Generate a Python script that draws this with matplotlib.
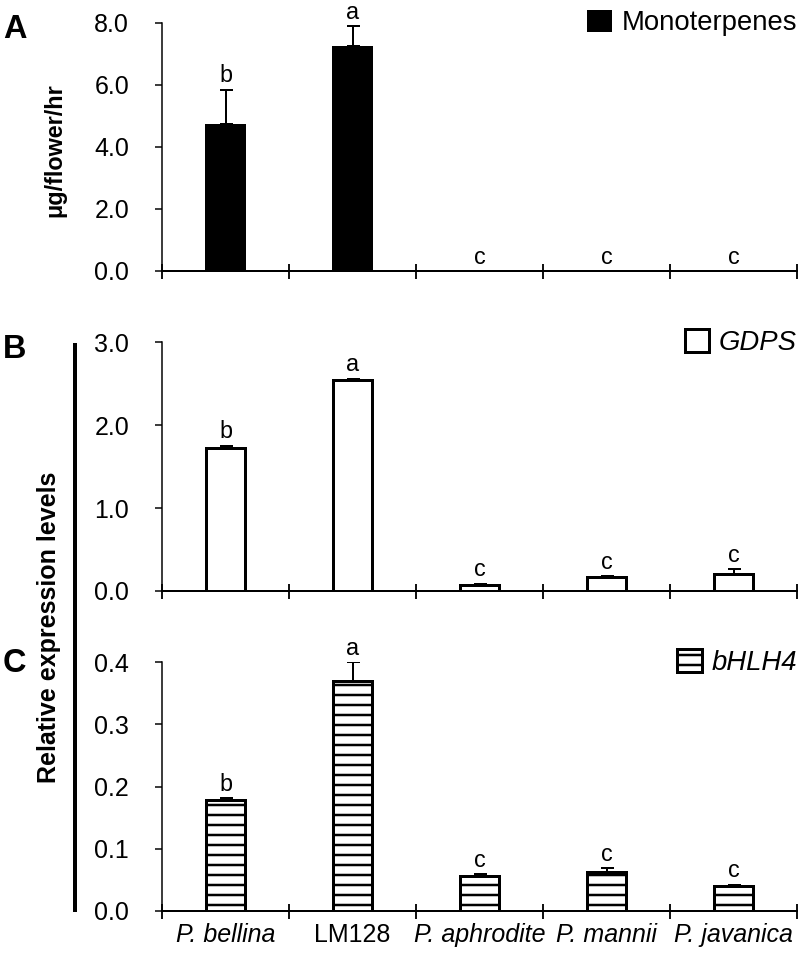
import numpy as np
import matplotlib
matplotlib.use('Agg')
import matplotlib.pyplot as plt
from matplotlib.lines import Line2D

plt.rcParams['font.family'] = ['Liberation Sans', 'DejaVu Sans']
plt.rcParams['hatch.linewidth'] = 3.0

species = ['P. bellina', 'LM128', 'P. aphrodite', 'P. mannii', 'P. javanica']
italic = [True, False, True, True, True]

# A: monoterpene emission (ug/flower/hr)
mono = [4.74, 7.26, 0.0, 0.0, 0.0]
mono_err = [1.10, 0.64, 0.0, 0.0, 0.0]
mono_sig = ['b', 'a', 'c', 'c', 'c']

# B: GDPS relative expression
gdps = [1.72, 2.545, 0.07, 0.165, 0.205]
gdps_err = [0.03, 0.015, 0.015, 0.012, 0.055]
gdps_sig = ['b', 'a', 'c', 'c', 'c']

# C: bHLH4 relative expression
bhlh = [0.179, 0.370, 0.057, 0.063, 0.040]
bhlh_err = [0.002, 0.030, 0.0025, 0.0055, 0.002]
bhlh_sig = ['b', 'a', 'c', 'c', 'c']

W, H, DPI = 800, 954, 60
fig = plt.figure(figsize=(W / DPI, H / DPI), dpi=DPI)


def px_axes(y_top, y_zero):
    left, right = 162, 797
    return fig.add_axes([left / W, 1 - y_zero / H, (right - left) / W, (y_zero - y_top) / H])


def panel(ax, vals, errs, sig, ymax, step, fc, hatch, lw, label, leg_italic, show_x):
    x = np.arange(len(vals))
    ax.bar(x, vals, width=0.30 if lw else 0.32, color=fc, edgecolor='black', linewidth=lw,
           hatch=hatch, label=label)
    errs = np.array(errs)
    m = errs > 0
    ax.errorbar(x[m], np.array(vals)[m], yerr=[np.zeros(m.sum()), errs[m]], fmt='none',
                ecolor='black', elinewidth=2.4, capsize=7.8, capthick=2.4)
    for xi, v, e, s in zip(x, vals, errs, sig):
        ax.annotate(s, (xi, v + e), xytext=(0, 9.0), textcoords='offset points',
                    ha='center', va='baseline', fontsize=28)
    ax.set_xlim(-0.5, len(vals) - 0.5)
    ax.set_ylim(0, ymax)
    ax.set_yticks(np.arange(0, ymax + step / 2, step))
    ax.yaxis.set_major_formatter(matplotlib.ticker.FormatStrFormatter('%.1f'))
    ax.spines['top'].set_visible(False)
    ax.spines['right'].set_visible(False)
    ax.spines['left'].set_linewidth(1.8)
    ax.spines['bottom'].set_linewidth(2.4)
    ax.tick_params(axis='y', direction='out', length=8.4, width=1.8, pad=31, labelsize=30)
    ax.set_xticks(x)
    ax.set_xticks(np.arange(-0.5, len(vals), 1.0), minor=True)
    ax.tick_params(axis='x', which='major', length=0, pad=14, labelsize=30)
    ax.tick_params(axis='x', which='minor', direction='inout', length=18, width=2.2)
    if show_x:
        ax.set_xticklabels(species)
        for t, it in zip(ax.get_xticklabels(), italic):
            t.set_fontstyle('italic' if it else 'normal')
    else:
        ax.set_xticklabels([])
    prop = {'family': 'Liberation Sans', 'size': 33, 'style': 'italic' if leg_italic else 'normal'}
    ax.legend(loc='center right', bbox_to_anchor=(1.0, 1.0), frameon=False, borderpad=0,
              borderaxespad=0, handlelength=0.9, handleheight=0.9, handletextpad=0.35, prop=prop)


axA = px_axes(23, 271)
panel(axA, mono, mono_err, mono_sig, 8.0, 2.0, 'black', None, 0, 'Monoterpenes', False, False)

axB = px_axes(342.3, 591)
panel(axB, gdps, gdps_err, gdps_sig, 3.0, 1.0, 'white', None, 3.6, 'GDPS', True, False)

axC = px_axes(662.3, 911)
panel(axC, bhlh, bhlh_err, bhlh_sig, 0.4, 0.1, 'white', '-', 3.6, 'bHLH4', True, True)

# y labels and panel letters
fig.text(55 / W, 1 - 150 / H, 'μg/flower/hr', rotation=90, ha='center', va='center',
         fontsize=28, fontweight='bold')
fig.text(49 / W, 1 - 627 / H, 'Relative expression levels', rotation=90, ha='center',
         va='center', fontsize=30, fontweight='bold')
fig.add_artist(Line2D([75 / W, 75 / W], [1 - 343 / H, 1 - 912 / H], transform=fig.transFigure,
                      color='black', lw=4.8, solid_capstyle='butt'))

for letter, yb in [('A', 38), ('B', 358), ('C', 672)]:
    fig.text(3 / W, 1 - yb / H, letter, ha='left', va='baseline', fontsize=39, fontweight='bold')

fig.savefig('out.png', dpi=DPI, facecolor='white')
